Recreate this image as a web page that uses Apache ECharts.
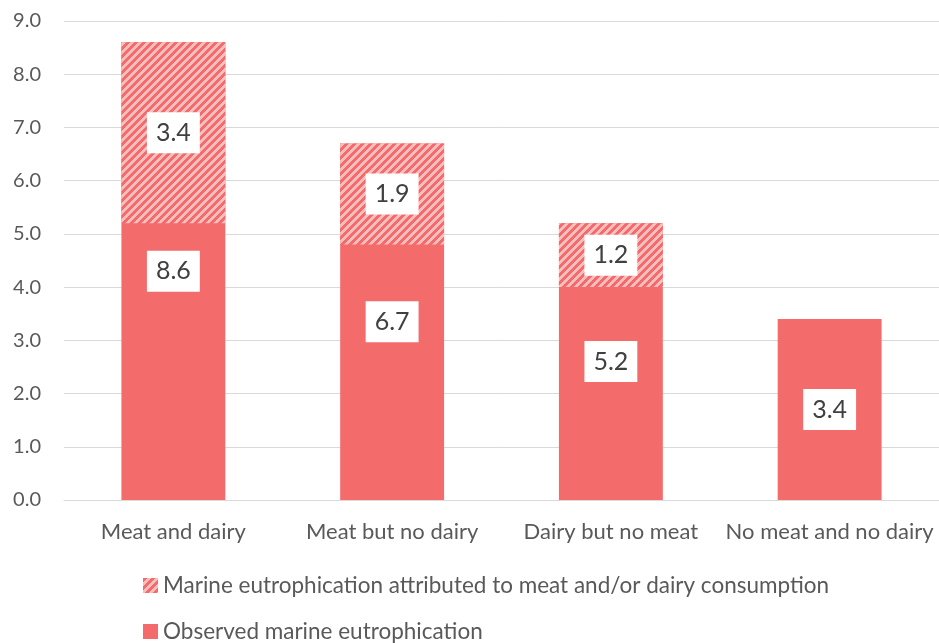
<!DOCTYPE html>
<html>
<head>
<meta charset="utf-8">
<script src="https://cdn.jsdelivr.net/npm/echarts@6/dist/echarts.min.js"></script>
<style>
  html, body { margin: 0; padding: 0; background: #fff; }
  #chart { width: 939px; height: 643px; }
</style>
</head>
<body>
<div id="chart"></div>
<script>
// Diet scenarios and marine eutrophication values
const categories = ['Meat and dairy', 'Meat but no dairy', 'Dairy but no meat', 'No meat and no dairy'];
const observed = [8.6, 6.7, 5.2, 3.4];
const attributed = [3.4, 1.9, 1.2, 0];
const yTicks = { min: 0, max: 9, interval: 1 };

const seriesNames = [
  'Marine eutrophication attributed to meat and/or dairy consumption',
  'Observed marine eutrophication'
];

const SOLID = '#F46B6B';
const LIGHT = '#FBBDBD';
const FONT = 'Lato';

// Diagonal hatch tile for the attributed share
function hatchTile() {
  const size = 8;
  const c = document.createElement('canvas');
  c.width = size; c.height = size;
  const ctx = c.getContext('2d');
  ctx.fillStyle = LIGHT;
  ctx.fillRect(0, 0, size, size);
  ctx.fillStyle = SOLID;
  for (let y = 0; y < size; y++) {
    for (let x = 0; x < size; x++) {
      if ((x + y) % size < 4) ctx.fillRect(x, y, 1, 1);
    }
  }
  return c;
}
const hatch = { image: hatchTile(), repeat: 'repeat' };

// Bottom of the hatched segment sits at observed - attributed
const hatchBase = observed.map((v, i) => +(v - attributed[i]).toFixed(2));

const labelBox = {
  show: true,
  position: 'inside',
  color: '#404040',
  fontFamily: FONT,
  fontSize: 25,
  lineHeight: 27,
  backgroundColor: '#ffffff',
  padding: [7, 9, 7, 9]
};

const legendText = { color: '#595959', fontSize: 22.5, fontFamily: FONT };

const chart = echarts.init(document.getElementById('chart'));
chart.setOption({
  animation: false,
  textStyle: { fontFamily: FONT },
  grid: { left: 64, right: 0, top: 21, bottom: 143, containLabel: false },
  legend: [
    {
      left: 138, top: 569, itemWidth: 15, itemHeight: 15, icon: 'rect',
      data: [seriesNames[0]], textStyle: legendText
    },
    {
      left: 138, top: 615, itemWidth: 15, itemHeight: 15, icon: 'rect',
      data: [seriesNames[1]], textStyle: legendText
    }
  ],
  xAxis: {
    type: 'category',
    data: categories,
    axisLine: { show: true, lineStyle: { color: '#d9d9d9', width: 1 } },
    axisTick: { show: false },
    axisLabel: { color: '#595959', fontSize: 22, fontFamily: FONT, margin: 21, interval: 0 }
  },
  yAxis: {
    type: 'value',
    min: yTicks.min,
    max: yTicks.max,
    interval: yTicks.interval,
    axisLine: { show: false },
    axisTick: { show: false },
    splitLine: { lineStyle: { color: '#d9d9d9', width: 1 } },
    axisLabel: {
      color: '#595959', fontSize: 20, fontFamily: FONT, margin: 23,
      formatter: v => v.toFixed(1)
    }
  },
  series: [
    {
      name: seriesNames[1],
      type: 'bar',
      barWidth: '47.5%',
      barGap: '-100%',
      data: observed,
      itemStyle: { color: SOLID },
      label: Object.assign({}, labelBox, { formatter: p => observed[p.dataIndex].toFixed(1) }),
      z: 2
    },
    {
      name: 'base',
      type: 'bar',
      stack: 'share',
      barWidth: '47.5%',
      data: hatchBase,
      itemStyle: { color: 'rgba(0,0,0,0)' },
      label: { show: false },
      silent: true,
      z: 3
    },
    {
      name: seriesNames[0],
      type: 'bar',
      stack: 'share',
      barWidth: '47.5%',
      data: attributed.map(v => ({ value: v, label: { show: v > 0 } })),
      itemStyle: { color: hatch },
      label: Object.assign({}, labelBox, {
        formatter: p => attributed[p.dataIndex].toFixed(1)
      }),
      z: 4
    }
  ]
});
</script>
</body>
</html>
